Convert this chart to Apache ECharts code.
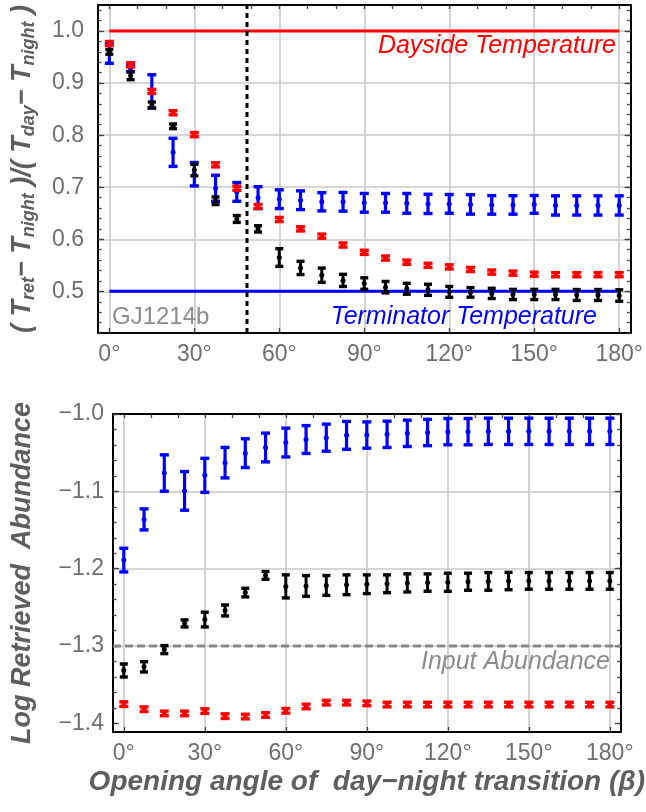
<!DOCTYPE html>
<html><head><meta charset="utf-8">
<script src="https://cdn.jsdelivr.net/npm/echarts@6/dist/echarts.min.js"></script>
<style>html,body{margin:0;padding:0;background:#fff}#c{width:646px;height:812px}</style>
</head><body><div id="c"></div>
<script>
// ---------- data ----------
const angles = [0,7.5,15,22.5,30,37.5,45,52.5,60,67.5,75,82.5,90,97.5,105,112.5,120,127.5,135,142.5,150,157.5,165,172.5,180];
const xTickLabels = [0,30,60,90,120,150,180];
const topYTickLabels = [0.5,0.6,0.7,0.8,0.9,1.0];
const botYTickLabels = [-1.4,-1.3,-1.2,-1.1,-1.0];

// top panel: normalised retrieved temperature
const topRed = [0.976,0.935,0.884,0.843,0.801,0.743,0.698,0.663,0.638,0.620,0.606,0.589,0.575,0.564,0.556,0.550,0.547,0.542,0.537,0.535,0.533,0.532,0.532,0.532,0.532];
const topRedErr = [0.004,0.004,0.004,0.004,0.004,0.004,0.004,0.004,0.004,0.004,0.004,0.004,0.004,0.004,0.004,0.004,0.004,0.004,0.004,0.004,0.004,0.004,0.004,0.004,0.004];
const topBlack = [0.960,0.914,0.858,0.817,0.733,0.674,0.639,0.620,0.565,0.545,0.531,0.521,0.515,0.508,0.505,0.503,0.499,0.498,0.496,0.494,0.494,0.494,0.493,0.493,0.492];
const topBlackErr = [0.0045,0.0075,0.0057,0.0045,0.011,0.0073,0.0066,0.006,0.017,0.0127,0.0137,0.0117,0.011,0.011,0.0105,0.0107,0.0104,0.0092,0.0098,0.0098,0.0098,0.0098,0.0105,0.0105,0.011];
const topBlue = [0.957,0.928,0.884,0.767,0.725,0.698,0.691,0.680,0.677,0.675,0.672,0.672,0.670,0.670,0.669,0.668,0.668,0.667,0.666,0.666,0.667,0.665,0.665,0.665,0.665];
const topBlueErr = [0.019,0.006,0.032,0.027,0.0225,0.025,0.018,0.021,0.018,0.018,0.0175,0.018,0.018,0.018,0.019,0.0185,0.018,0.0187,0.0178,0.0178,0.017,0.0185,0.0185,0.0185,0.0185];

// bottom panel: log retrieved abundance
const botRed = [-1.375,-1.3815,-1.387,-1.387,-1.384,-1.3905,-1.391,-1.389,-1.3836,-1.378,-1.373,-1.373,-1.374,-1.3755,-1.3755,-1.3755,-1.3755,-1.3755,-1.3755,-1.3755,-1.3755,-1.3755,-1.3755,-1.3755,-1.3755];
const botRedErr = [0.003,0.003,0.003,0.003,0.003,0.003,0.003,0.003,0.003,0.003,0.003,0.003,0.003,0.003,0.003,0.003,0.003,0.003,0.003,0.003,0.003,0.003,0.003,0.003,0.003];
const botBlack = [-1.3315,-1.3267,-1.3045,-1.2707,-1.2657,-1.2539,-1.2308,-1.2086,-1.2228,-1.2222,-1.2216,-1.2207,-1.22,-1.2194,-1.2183,-1.2179,-1.2175,-1.2168,-1.2164,-1.2159,-1.2157,-1.2157,-1.2157,-1.2157,-1.2157];
const botBlackErr = [0.0084,0.0067,0.0052,0.0046,0.0095,0.0071,0.0056,0.005,0.0149,0.0134,0.0128,0.0128,0.0121,0.0115,0.0117,0.0112,0.0117,0.011,0.0114,0.0112,0.0108,0.0108,0.0108,0.0108,0.0108];
const botBlue = [-1.1888,-1.1362,-1.0763,-1.0994,-1.0793,-1.0629,-1.0506,-1.0433,-1.0369,-1.033,-1.0306,-1.0276,-1.0272,-1.0263,-1.025,-1.0239,-1.0228,-1.0228,-1.0224,-1.0224,-1.0224,-1.0224,-1.0224,-1.0224,-1.0224];
const botBlueErr = [0.0153,0.0136,0.0235,0.025,0.022,0.0197,0.0186,0.0186,0.0186,0.018,0.0175,0.018,0.017,0.017,0.017,0.017,0.017,0.017,0.017,0.017,0.017,0.017,0.017,0.017,0.017];

const daysideLevel = 1.0, terminatorLevel = 0.5, transitionAngle = 48.6, inputAbundance = -1.3;

// ---------- helpers ----------
const FONT = "'Liberation Sans', Arial, Helvetica, sans-serif";
const LABEL_COLOR = '#6e6e6e';
const TITLE_COLOR = '#5e5e5e';
const TICK_COLOR = '#444';
function range(a, b, s) { const r = []; for (let v = a; v <= b + 1e-9; v += s) r.push(Math.round(v * 1000) / 1000); return r; }
const xMinor = range(0, 180, 10);
const topYMinor = range(0.42, 1.04, 0.02);
const botYMinor = range(-1.40, -1.0, 0.02);

function ax(gi, pos, min, max, o) {
  const base = {
    type: 'value', gridIndex: gi, position: pos, min: min, max: max,
    axisLine: { show: false, onZero: false },
    axisTick: { show: false },
    axisLabel: { show: false },
    splitLine: { show: false },
    minorTick: { show: false }
  };
  return Object.assign(base, o);
}
const frameLine = { show: true, onZero: false, lineStyle: { color: '#000', width: 2 } };
function ticks(vals, len) { return { show: true, inside: true, length: len, customValues: vals, lineStyle: { color: TICK_COLOR, width: 1.3 } }; }
const gridLineStyle = { show: true, lineStyle: { color: '#c8c8c8', width: 1.6 } };

function errRender(color, capW, lw, capLw, dotR) {
  return function (params, api) {
    const x = api.value(0), y = api.value(1), e = api.value(2);
    const hi = api.coord([x, y + e]);
    const lo = api.coord([x, y - e]);
    const c = api.coord([x, y]);
    return {
      type: 'group',
      children: [
        { type: 'line', shape: { x1: c[0], y1: hi[1], x2: c[0], y2: lo[1] }, style: { stroke: color, lineWidth: lw } },
        { type: 'line', shape: { x1: c[0] - capW / 2, y1: hi[1], x2: c[0] + capW / 2, y2: hi[1] }, style: { stroke: color, lineWidth: capLw } },
        { type: 'line', shape: { x1: c[0] - capW / 2, y1: lo[1], x2: c[0] + capW / 2, y2: lo[1] }, style: { stroke: color, lineWidth: capLw } },
        { type: 'circle', shape: { cx: c[0], cy: c[1], r: dotR }, style: { fill: color } }
      ]
    };
  };
}
function errSeries(xi, yi, ys, es, color, capW, lw, z) {
  return {
    type: 'custom', xAxisIndex: xi, yAxisIndex: yi, z: z,
    renderItem: errRender(color, capW, lw, 3.4, 2.5),
    data: angles.map((a, i) => [a, ys[i], es[i]]),
    encode: { x: 0, y: 1 }
  };
}
function lineSeries(xi, yi, pts, color, width, type, z) {
  return {
    type: 'line', xAxisIndex: xi, yAxisIndex: yi, z: z, silent: true,
    symbol: 'none', data: pts,
    lineStyle: { color: color, width: width, type: type || 'solid' }
  };
}

const TOP_YMIN = 0.42, TOP_YMAX = 1.05;
const BOT_YMIN = -1.411, BOT_YMAX = -1.0;
const XMIN = -4, XMAX = 184;

const xLabel = { show: true, customValues: xTickLabels, formatter: v => v + '°', fontSize: 23, color: LABEL_COLOR, fontFamily: FONT, margin: 10 };

const xAxes = [];
const yAxes = [];
[0, 1].forEach(gi => {
  const bottom = ax(gi, 'bottom', XMIN, XMAX, { axisLine: frameLine, axisTick: ticks(xTickLabels, 5), axisLabel: xLabel });
  if (gi === 1) {
    bottom.name = 'Opening angle of  day\u2212night transition (\u03B2)';
    bottom.nameLocation = 'middle';
    bottom.nameGap = 35;
    bottom.nameTextStyle = { fontSize: 28, fontWeight: 'bold', fontStyle: 'italic', color: TITLE_COLOR, fontFamily: FONT, lineHeight: 30 };
  }
  xAxes.push(bottom);
  xAxes.push(ax(gi, 'top', XMIN, XMAX, { axisLine: frameLine, axisTick: ticks(xMinor, 4) }));
  xAxes.push(ax(gi, 'bottom', XMIN, XMAX, { axisTick: { show: false, customValues: xTickLabels }, splitLine: gridLineStyle }));
});

// top panel y axes
const topYName = '{m|( T}{s|ret}{m|\u2212 T}{s|night}{m| )/( T}{s|day}{m|\u2212 T}{s|night}{m| )}';
const mStyle = { fontSize: 27, fontWeight: 'bold', fontStyle: 'italic', color: TITLE_COLOR, fontFamily: FONT, lineHeight: 30 };
const sStyle = { fontSize: 18, fontWeight: 'bold', fontStyle: 'italic', color: TITLE_COLOR, fontFamily: FONT, lineHeight: 18, verticalAlign: 'bottom' };
yAxes.push(ax(0, 'left', TOP_YMIN, TOP_YMAX, {
  axisLine: frameLine, axisTick: ticks(topYTickLabels, 6),
  axisLabel: { show: true, customValues: topYTickLabels, formatter: v => v.toFixed(1), fontSize: 23, color: LABEL_COLOR, fontFamily: FONT, margin: 14 },
  name: topYName, nameLocation: 'middle', nameGap: 60,
  nameTextStyle: { fontSize: 27, fontWeight: 'bold', fontStyle: 'italic', color: TITLE_COLOR, fontFamily: FONT, lineHeight: 30, rich: { m: mStyle, s: sStyle } }
}));
yAxes.push(ax(0, 'left', TOP_YMIN, TOP_YMAX, { axisTick: ticks(topYMinor, 3.5) }));
yAxes.push(ax(0, 'right', TOP_YMIN, TOP_YMAX, { axisLine: frameLine, axisTick: ticks(topYTickLabels, 6) }));
yAxes.push(ax(0, 'right', TOP_YMIN, TOP_YMAX, { axisTick: ticks(topYMinor, 3.5) }));
yAxes.push(ax(0, 'left', TOP_YMIN, TOP_YMAX, { axisTick: { show: false, customValues: topYTickLabels }, splitLine: gridLineStyle }));

// bottom panel y axes
yAxes.push(ax(1, 'left', BOT_YMIN, BOT_YMAX, {
  axisLine: frameLine, axisTick: ticks(botYTickLabels, 6),
  axisLabel: { show: true, customValues: botYTickLabels, formatter: v => '\u2212' + Math.abs(v).toFixed(1), fontSize: 23, color: LABEL_COLOR, fontFamily: FONT, margin: 9 },
  name: 'Log Retrieved  Abundance', nameLocation: 'middle', nameGap: 75,
  nameTextStyle: { fontSize: 27, fontWeight: 'bold', fontStyle: 'italic', color: TITLE_COLOR, fontFamily: FONT, lineHeight: 30 }
}));
yAxes.push(ax(1, 'left', BOT_YMIN, BOT_YMAX, { axisTick: ticks(botYMinor, 3.5) }));
yAxes.push(ax(1, 'right', BOT_YMIN, BOT_YMAX, { axisLine: frameLine, axisTick: ticks(botYTickLabels, 6) }));
yAxes.push(ax(1, 'right', BOT_YMIN, BOT_YMAX, { axisTick: ticks(botYMinor, 3.5) }));
yAxes.push(ax(1, 'left', BOT_YMIN, BOT_YMAX, { axisTick: { show: false, customValues: [-1.3, -1.2, -1.1] }, splitLine: gridLineStyle }));

const series = [
  // top panel
  lineSeries(0, 0, [[0, daysideLevel], [180, daysideLevel]], '#ff0000', 3, 'solid', 2),
  lineSeries(0, 0, [[0, terminatorLevel], [180, terminatorLevel]], '#0000ff', 3, 'solid', 2),
  lineSeries(0, 0, [[transitionAngle, TOP_YMIN], [transitionAngle, TOP_YMAX]], '#000', 3, [5, 4], 2),
  errSeries(0, 0, topBlue, topBlueErr, '#0000ff', 9, 3.2, 3),
  errSeries(0, 0, topBlack, topBlackErr, '#000000', 8, 3, 4),
  errSeries(0, 0, topRed, topRedErr, '#ff0000', 9, 3, 5),
  // bottom panel
  lineSeries(3, 5, [[XMIN, inputAbundance], [XMAX, inputAbundance]], '#888888', 3, [8, 4], 2),
  errSeries(3, 5, botBlue, botBlueErr, '#0000ff', 9, 3.2, 3),
  errSeries(3, 5, botBlack, botBlackErr, '#000000', 8, 3, 4),
  errSeries(3, 5, botRed, botRedErr, '#ff0000', 9, 3, 5)
];

const chart = echarts.init(document.getElementById('c'), null, { renderer: 'canvas' });
chart.setOption({
  animation: false,
  backgroundColor: '#fff',
  grid: [
    { left: 98, top: 5, width: 534, height: 328 },
    { left: 111, top: 414, width: 516, height: 318 }
  ],
  xAxis: xAxes,
  yAxis: yAxes,
  series: series,
  graphic: [
    { type: 'text', x: 616, y: 46, style: { text: 'Dayside Temperature', fill: '#ff0000', fontSize: 25, fontStyle: 'italic', fontFamily: FONT, align: 'right', verticalAlign: 'middle' }, z: 10 },
    { type: 'text', x: 597, y: 317, style: { text: 'Terminator Temperature', fill: '#0000ff', fontSize: 25, fontStyle: 'italic', fontFamily: FONT, align: 'right', verticalAlign: 'middle' }, z: 10 },
    { type: 'text', x: 112, y: 317, style: { text: 'GJ1214b', fill: '#8c8c8c', fontSize: 24, fontFamily: FONT, align: 'left', verticalAlign: 'middle' }, z: 10 },
    { type: 'text', x: 610, y: 662, style: { text: 'Input Abundance', fill: '#8c8c8c', fontSize: 25, fontStyle: 'italic', fontFamily: FONT, align: 'right', verticalAlign: 'middle' }, z: 10 }
  ]
});
</script>
</body></html>
